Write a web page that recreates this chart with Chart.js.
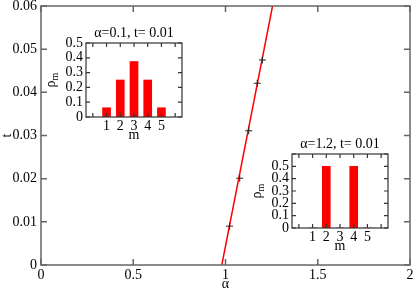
<!DOCTYPE html>
<html>
<head>
<meta charset="utf-8">
<script src="https://cdn.jsdelivr.net/npm/chart.js@4.4.1/dist/chart.umd.min.js"></script>
<style>
  html, body { margin: 0; padding: 0; background: #fff; }
  #wrap { position: relative; width: 415px; height: 291px; }
  canvas { position: absolute; }
</style>
</head>
<body>
<div id="wrap">
  <canvas id="main" width="415" height="291" style="left:0;top:0;width:415px;height:291px"></canvas>
  <canvas id="inset1" width="150" height="125" style="left:40px;top:20px;width:150px;height:125px"></canvas>
  <canvas id="inset2" width="160" height="125" style="left:250px;top:132px;width:160px;height:125px"></canvas>
</div>
<script>
// main plot: fitted line t(alpha) and measured points
const lineAlpha = [0.98, 1.255]
const lineT = [0, 0.06]
const markAlpha = [1.022, 1.077, 1.126, 1.172, 1.200]
const markT = [0.009, 0.0201, 0.0311, 0.0421, 0.0475]
const alphaTicks = [0, 0.5, 1, 1.5, 2]
const tTicks = [0, 0.01, 0.02, 0.03, 0.04, 0.05, 0.06]

// insets: occupation rho_m for m = 1..5
const mValues = [1, 2, 3, 4, 5]
const rhoLow = [0.0625, 0.25, 0.375, 0.25, 0.0625]   // alpha=0.1
const rhoHigh = [0, 0.5, 0, 0.5, 0]                  // alpha=1.2
const insetTitles = ['\u03b1=0.1, t= 0.01', '\u03b1=1.2, t= 0.01']

const SERIF = "'Liberation Serif', 'Times New Roman', serif"
Chart.defaults.font.family = SERIF
Chart.defaults.color = '#000'

const fmtAlpha = v => alphaTicks.includes(v) ? String(v) : ''
const fmtT = v => v === 0 ? '0' : v.toFixed(2)

// frame with inward ticks on all four sides
const framePlugin = {
  id: 'frame',
  afterDraw(chart, args, opts) {
    const { ctx, chartArea: a, scales } = chart
    ctx.save()
    ctx.strokeStyle = opts.color
    ctx.lineWidth = opts.width
    ctx.beginPath()
    scales.x.ticks.forEach(t => {
      const px = scales.x.getPixelForValue(t.value)
      ctx.moveTo(px, a.bottom); ctx.lineTo(px, a.bottom - opts.len)
      ctx.moveTo(px, a.top); ctx.lineTo(px, a.top + opts.len)
    })
    scales.y.ticks.forEach(t => {
      const py = scales.y.getPixelForValue(t.value)
      ctx.moveTo(a.left, py); ctx.lineTo(a.left + opts.len, py)
      ctx.moveTo(a.right, py); ctx.lineTo(a.right - opts.len, py)
    })
    ctx.stroke()
    ctx.strokeRect(a.left, a.top, a.right - a.left, a.bottom - a.top)
    ctx.restore()
  }
}

// axis titles
const titlesPlugin = {
  id: 'titles',
  afterDraw(chart, args, opts) {
    const { ctx, chartArea: a } = chart
    const cx = (a.left + a.right) / 2
    const cy = (a.top + a.bottom) / 2
    ctx.save()
    ctx.fillStyle = '#000'
    ctx.textAlign = 'center'
    ctx.textBaseline = 'alphabetic'
    ctx.font = `14px ${SERIF}`
    if (opts.top) ctx.fillText(opts.top, cx, a.top - opts.topGap)
    ctx.fillText(opts.xTitle, cx, a.bottom + opts.xGap)
    ctx.translate(a.left - opts.yGap, cy)
    ctx.rotate(-Math.PI / 2)
    if (opts.ySub) {
      ctx.font = `14px ${SERIF}`
      const w1 = ctx.measureText(opts.yTitle).width
      ctx.font = `10px ${SERIF}`
      const w2 = ctx.measureText(opts.ySub).width
      const x0 = -(w1 + w2) / 2
      ctx.textAlign = 'left'
      ctx.font = `14px ${SERIF}`
      ctx.fillText(opts.yTitle, x0, 0)
      ctx.font = `10px ${SERIF}`
      ctx.fillText(opts.ySub, x0 + w1, 3)
    } else {
      ctx.fillText(opts.yTitle, 0, 0)
    }
    ctx.restore()
  }
}

Chart.register(framePlugin, titlesPlugin)

new Chart(document.getElementById('main'), {
  type: 'scatter',
  data: {
    datasets: [{
      data: markAlpha.map((a, i) => ({ x: a, y: markT[i] })),
      pointStyle: 'cross',
      pointRadius: 3.5,
      pointBorderColor: '#222',
      pointBorderWidth: 1,
      showLine: false
    }, {
      data: lineAlpha.map((a, i) => ({ x: a, y: lineT[i] })),
      showLine: true,
      borderColor: '#ff0000',
      borderWidth: 1.5,
      pointRadius: 0
    }]
  },
  options: {
    responsive: false,
    animation: false,
    events: [],
    layout: { padding: { top: 6, right: 5 } },
    plugins: {
      legend: { display: false },
      tooltip: { enabled: false },
      frame: { color: '#666', width: 1.5, len: 6 },
      titles: { xTitle: '\u03b1', xGap: 23, yTitle: 't', yGap: 30 }
    },
    scales: {
      x: {
        type: 'linear', min: 0, max: 2,
        grid: { display: false, drawTicks: false }, border: { display: false },
        ticks: { stepSize: 0.5, autoSkip: false, maxRotation: 0, padding: 2, font: { size: 14 }, callback: fmtAlpha },
        afterFit: s => { s.height = 26; s.paddingLeft = 0; s.paddingRight = 0 }
      },
      y: {
        min: 0, max: 0.06,
        grid: { display: false, drawTicks: false }, border: { display: false },
        ticks: { stepSize: 0.01, autoSkip: false, padding: 4, font: { size: 14 }, callback: fmtT },
        afterFit: s => { s.width = 41; s.paddingTop = 0; s.paddingBottom = 0 }
      }
    }
  }
})

function makeInset(id, rho, yMax, title, pad, yW, xH) {
  new Chart(document.getElementById(id), {
    type: 'bar',
    data: {
      datasets: [{
        data: mValues.map((m, i) => ({ x: m, y: rho[i] })),
        backgroundColor: '#ff0000',
        borderWidth: 0,
        barThickness: 8
      }]
    },
    options: {
      responsive: false,
      animation: false,
      events: [],
      layout: { padding: pad },
      plugins: {
        legend: { display: false },
        tooltip: { enabled: false },
        frame: { color: '#333', width: 1.2, len: 4 },
        titles: { top: title, topGap: 6, xTitle: 'm', xGap: 22, yTitle: '\u03c1', ySub: 'm', yGap: 31 }
      },
      scales: {
        x: {
          type: 'linear', min: 0, max: 6,
          grid: { display: false, drawTicks: false }, border: { display: false },
          ticks: { stepSize: 1, autoSkip: false, maxRotation: 0, padding: 1, font: { size: 14 },
            callback: v => (v >= 1 && v <= 5) ? String(v) : '' },
          afterFit: s => { s.height = xH; s.paddingLeft = 0; s.paddingRight = 0 }
        },
        y: {
          min: 0, max: yMax,
          grid: { display: false, drawTicks: false }, border: { display: false },
          ticks: { stepSize: 0.1, autoSkip: false, padding: 3, font: { size: 14 },
            callback: v => v > 0.55 ? '' : (v === 0 ? '0' : v.toFixed(1)) },
          afterFit: s => { s.width = yW; s.paddingTop = 0; s.paddingBottom = 0 }
        }
      }
    }
  })
}

makeInset('inset1', rhoLow, 0.5, insetTitles[0], { top: 23, right: 8 }, 46, 28)
makeInset('inset2', rhoHigh, 0.6, insetTitles[1], { top: 22, right: 22 }, 42, 29)
</script>
</body>
</html>
